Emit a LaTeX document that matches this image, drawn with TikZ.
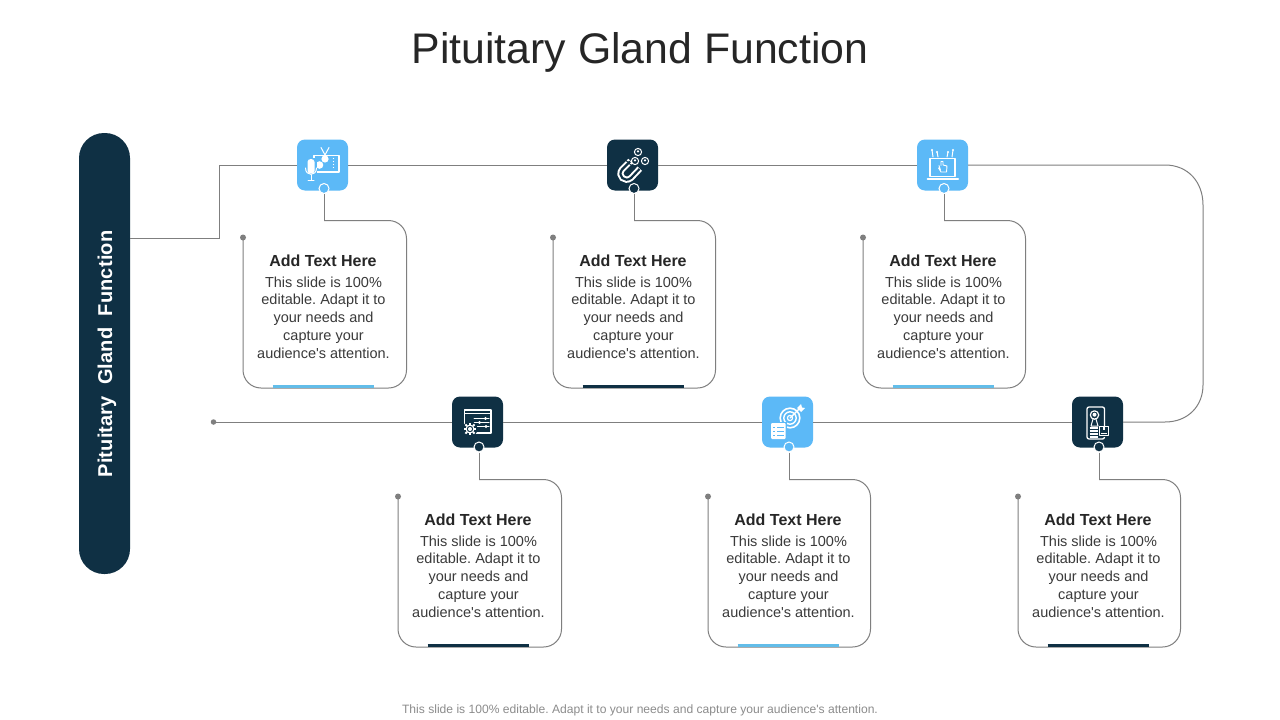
\documentclass[tikz,border=0pt]{standalone}
\usepackage{fontspec}
\setmainfont{Liberation Sans}
\newfontfamily\plainfont{Liberation Sans}
\definecolor{navy}{HTML}{0F3044}
\definecolor{sky}{HTML}{5CB9F7}
\definecolor{skyrule}{HTML}{62BDE9}
\definecolor{linegray}{HTML}{7F7F7F}
\definecolor{titlegray}{HTML}{262626}
\definecolor{bodygray}{HTML}{3A3A3A}
\definecolor{footgray}{HTML}{8C8C8C}
\tikzset{
  conn/.style={draw=linegray,line width=1pt},
  iconbox/.style={minimum width=51pt,minimum height=51pt,rounded corners=8pt,inner sep=0pt,draw=none},
  port/.style={circle,minimum size=10pt,inner sep=0pt,draw=white,line width=1pt},
  enddot/.style={circle,fill=linegray,minimum size=6pt,inner sep=0pt},
  headtext/.style={font=\fontsize{16}{18}\bfseries,text=titlegray,inner sep=0pt,anchor=center},
  bodytext/.style={font=\plainfont\fontsize{14.5}{17.75}\selectfont\frenchspacing,text=bodygray,align=center,inner sep=0pt,anchor=north},
  ic/.style={draw=white,line width=1.3pt,line cap=round,line join=round},
}
% #1 id, #2 stem x, #3 left, #4 right, #5 top, #6 colour, #7 text centre
\newcommand{\cardblock}[7]{%
  \coordinate (#1tl) at (#2,#5);
  \coordinate (#1tr) at (#4,#5);
  \coordinate (#1br) at (#4,#5+167.5);
  \coordinate (#1bl) at (#3,#5+167.5);
  \node[enddot] (#1dot) at (#3,#5+17) {};
  \draw[conn] (#1port.south) -- (#1tl);
  \draw[conn,rounded corners=18pt] (#1tl) -- (#1tr) -- (#1br) -- (#1bl) -- (#1dot.center);
  \coordinate (#1ra) at (#7-50.5,#5+166);
  \coordinate (#1rb) at (#7+51,#5+166);
  \draw[draw=#6,line width=3.6pt] (#1ra) -- (#1rb);
  \node[headtext] (#1head) at (#7,#5+40.5) {Add Text Here};
  \node[bodytext] (#1body) at (#7+0.5,#5+56) {This slide is 100\%\\editable. Adapt it to\\your needs and\\capture your\\audience's attention.};
}
\begin{document}
\begin{tikzpicture}[x=1pt,y=-1pt]
\useasboundingbox (0,0) rectangle (1280,720);
\fill[white] (0,0) rectangle (1280,720);

\node[font=\fontsize{42.8}{50}\selectfont,text=titlegray,inner sep=0pt] (title) at (640,52) {Pituitary Gland Function};
\node[font=\plainfont\fontsize{12.1}{14}\selectfont\frenchspacing,text=footgray,inner sep=0pt] (foot) at (640,710) {This slide is 100\% editable. Adapt it to your needs and capture your audience's attention.};

\node[fill=navy,minimum width=441pt,minimum height=51pt,rounded corners=25pt,inner sep=0pt,rotate=90] (pill) at (104.5,353.5) {};
\node[font=\fontsize{20}{22}\bfseries\addfontfeature{LetterSpace=0.7},text=white,rotate=90,inner sep=0pt] (pilltext) at (107,354) {Pituitary\ \ Gland\ \ Function};

% icon tiles
\node[iconbox,fill=sky]  (a) at (322.5,165) {};
\node[iconbox,fill=navy] (b) at (632.5,165) {};
\node[iconbox,fill=sky]  (c) at (942.5,165) {};
\node[iconbox,fill=navy] (d) at (477.5,422) {};
\node[iconbox,fill=sky]  (e) at (787.5,422) {};
\node[iconbox,fill=navy] (f) at (1097.5,422) {};
\node[port,fill=sky]  (aport) at (324,188.5) {};
\node[port,fill=navy] (bport) at (634,188.5) {};
\node[port,fill=sky]  (cport) at (944,188.5) {};
\node[port,fill=navy] (dport) at (479,447) {};
\node[port,fill=sky]  (eport) at (789,447) {};
\node[port,fill=navy] (fport) at (1099,447) {};

% trunk
\coordinate (p1) at (130,238);
\coordinate (p2) at (219,238);
\coordinate (p3) at (219,165);
\coordinate (c1) at (1165,165);
\coordinate (c2) at (1203,205);
\coordinate (c3) at (1203,385);
\coordinate (c4) at (1165,422);
\node[enddot,minimum size=5.5pt] (lineend) at (213.5,422) {};
\draw[conn] (p1) -- (p2) -- (p3) -- (a.west);
\draw[conn] (a.east) -- (b.west);
\draw[conn] (b.east) -- (c.west);
\draw[conn] (c.east) -- (c1) .. controls (1188,165) and (1203,182) .. (c2) -- (c3) .. controls (1203,406) and (1188,422) .. (c4) -- (f.east);
\draw[conn] (f.west) -- (e.east);
\draw[conn] (e.west) -- (d.east);
\draw[conn] (d.west) -- (lineend.center);

% cards
\cardblock{a}{324}{243}{406.5}{220.5}{skyrule}{323}
\cardblock{b}{634}{553}{715.5}{220.5}{navy}{633}
\cardblock{c}{944}{863}{1025.5}{220.5}{skyrule}{943}
\cardblock{d}{479}{398}{561.5}{479.5}{navy}{478}
\cardblock{e}{789}{708}{870.5}{479.5}{skyrule}{788}
\cardblock{f}{1099}{1018}{1180.5}{479.5}{navy}{1098}

% icon 1: TV and microphone
\draw[ic,line width=1.5pt] (314,155.5) rectangle (339,172);
\draw[ic,line width=1pt] (321,147.5) -- (325,155) -- (329,147.5);
\fill[white] (325,159) circle (3.6) (319.5,165) circle (3.8);
\fill[white] (333.5,158.5) circle (.7) (333.5,161.5) circle (.7) (333.5,164.5) circle (.7) (333.5,167.5) circle (.7);
\fill[sky] (305,158) rectangle (317,176);
\fill[white] (307.5,162) .. controls (307.5,158) and (314.5,158) .. (314.5,162) -- (314.5,171) .. controls (314.5,174.5) and (307.5,174.5) .. (307.5,171) -- cycle;
\draw[ic,line width=1pt] (305.5,168) .. controls (305.5,176.5) and (316.5,176.5) .. (316.5,168);
\draw[ic,line width=1pt] (311,175) -- (311,180.5) (308,180.5) -- (314,180.5);

% icon 2: magnet
\draw[white,line width=6.2pt] (630.5,161) -- (622,169.5) .. controls (617,176) and (625,183) .. (631,178) -- (640,168.5);
\draw[navy,line width=2.2pt] (630,161.5) -- (622,169.5) .. controls (617,176) and (625,183) .. (631,178) -- (639.5,169);
\draw[navy,line width=.9pt] (625,159.5) -- (633.5,167.5) (635,163) -- (642.5,170.5);
\draw[ic,line width=1pt] (638,152) circle (3.6) (635,161) circle (3.6) (645,161) circle (3.6);
\fill[white] (638,151.4) circle (1.3) (635,160.4) circle (1.3) (645,160.4) circle (1.3);

% icon 3: laptop
\draw[ic] (930,158.5) rectangle (955,176.5);
\draw[ic,line width=2pt] (927.5,178.5) -- (958,178.5);
\draw[ic,line width=1pt] (933,157) -- (932,150) (938,157) -- (937,152) (947,157) -- (948,152) (952,157) -- (953,150);
\fill[white] (932,150) circle (1.1) (937,152) circle (1.1) (948,152) circle (1.1) (953,150) circle (1.1);
\draw[ic,line width=.9pt] (940.5,170) -- (939,165.5) (941,165.5) -- (941,161.5) -- (943,161.5) -- (943,165) -- (947,166) -- (946.5,172) -- (941,172) -- (938.5,168);

% icon 4: settings window
\draw[ic] (464.5,410) rectangle (491,433);
\draw[ic,line width=1pt] (464.5,413.5) -- (491,413.5);
\draw[ic,line width=1pt] (474,418.5) -- (489,418.5) (474,422.5) -- (489,422.5) (474,426.5) -- (489,426.5);
\fill[white] (485.5,418.5) circle (1.6) (479.5,422.5) circle (1.6) (486,426.5) circle (1.6);
\fill[navy] (470,429) circle (7.5);
\foreach \ang in {0,45,...,315} {\draw[white,line width=1.8pt] (470,429) ++(\ang:4.2) -- ++(\ang:2.2);}
\draw[white,line width=1.1pt] (470,429) circle (3.9);
\fill[white] (470,429) circle (2);

% icon 5: target and checklist
\draw[ic,line width=1.6pt] (790,418) circle (9.8);
\draw[ic,line width=1.4pt] (790,418) circle (6.2);
\draw[ic,line width=1.2pt] (790,418) circle (2.6);
\draw[ic,line width=1.4pt] (790,418) -- (800,408);
\fill[white] (797,408) -- (801,404) -- (802,407.5) -- (805,408) -- (801,412) -- cycle;
\fill[sky] (770,421.5) rectangle (787,440.5);
\fill[white,rounded corners=1pt] (771,423) rectangle (785.5,439);
\draw[sky,line width=.8pt] (773,427) -- (775,427) (777,427) -- (783.5,427) (773,431) -- (775,431) (777,431) -- (783.5,431) (773,435) -- (775,435) (777,435) -- (783.5,435);

% icon 6: phone with parcel
\draw[ic,rounded corners=2pt] (1087,407) rectangle (1104.5,439);
\draw[ic,line width=1.2pt] (1094.5,415) circle (4.2);
\fill[white] (1094.5,414.7) circle (2);
\draw[ic,line width=1pt] (1091,426) -- (1093,419) (1098,426) -- (1096,419) (1091,426) -- (1098,426);
\draw[white,line width=1.3pt] (1089.5,428) -- (1098,428) (1089.5,431) -- (1098,431) (1089.5,434) -- (1098,434) (1089.5,437) -- (1098,437);
\fill[navy] (1098.5,425.5) rectangle (1109.5,436.5);
\draw[ic,line width=1.1pt] (1099.5,426.5) rectangle (1108.5,435.5);
\fill[white] (1103,426.5) rectangle (1105,430);
\draw[white,line width=1pt] (1101,433.5) -- (1107,433.5);
\end{tikzpicture}
\end{document}
